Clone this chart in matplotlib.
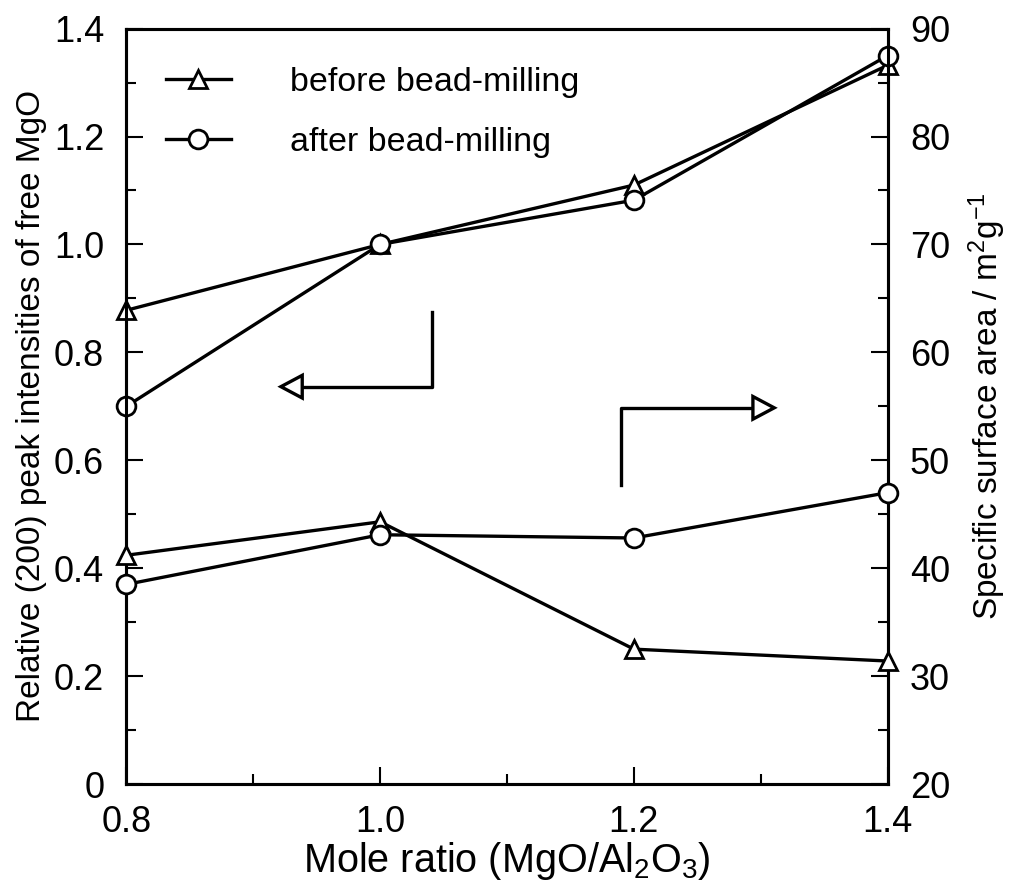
import matplotlib
matplotlib.use("Agg")
import matplotlib.pyplot as plt
from matplotlib.patches import Polygon
from matplotlib.ticker import MultipleLocator

# Data
mole_ratio = [0.8, 1.0, 1.2, 1.4]
mgo_before = [0.878, 1.0, 1.11, 1.332]
mgo_after = [0.70, 1.0, 1.082, 1.35]
ssa_before = [41.2, 44.3, 32.5, 31.4]
ssa_after = [38.5, 43.1, 42.8, 47.0]

plt.rcParams['font.family'] = ['Liberation Sans', 'DejaVu Sans']
plt.rcParams['mathtext.fontset'] = 'custom'
plt.rcParams['mathtext.rm'] = 'Liberation Sans'
plt.rcParams['mathtext.it'] = 'Liberation Sans'
plt.rcParams['mathtext.default'] = 'regular'
lw = 2.4
ms = 13.5

fig = plt.figure(figsize=(10.11, 8.93), dpi=100)
ax = fig.add_axes([0.125, 0.122, 0.753, 0.846])
ax2 = ax.twinx()

kw_b = dict(color='black', lw=lw, marker='^', ms=ms, mfc='white', mec='black', mew=2, clip_on=False, zorder=5)
kw_a = dict(color='black', lw=lw, marker='o', ms=ms, mfc='white', mec='black', mew=2, clip_on=False, zorder=6)

l1, = ax.plot(mole_ratio, mgo_before, label='before bead-milling', **kw_b)
l2, = ax.plot(mole_ratio, mgo_after, label='after bead-milling', **kw_a)
ax2.plot(mole_ratio, ssa_before, **kw_b)
ax2.plot(mole_ratio, ssa_after, **kw_a)

ax.set_xlim(0.8, 1.4)
ax.set_ylim(0, 1.4)
ax2.set_ylim(20, 90)

ax.xaxis.set_minor_locator(MultipleLocator(0.1))
ax.yaxis.set_minor_locator(MultipleLocator(0.1))
ax2.yaxis.set_major_locator(MultipleLocator(10))
ax2.yaxis.set_minor_locator(MultipleLocator(5))

ax.set_xticks([0.8, 1.0, 1.2, 1.4])
ax.set_xticklabels(['0.8', '1.0', '1.2', '1.4'])
ax.set_yticks([0, 0.2, 0.4, 0.6, 0.8, 1.0, 1.2, 1.4])
ax.set_yticklabels(['0', '0.2', '0.4', '0.6', '0.8', '1.0', '1.2', '1.4'])

for a in (ax, ax2):
    a.tick_params(which='major', direction='in', length=12, width=1.5, labelsize=26, pad=16)
    a.tick_params(which='minor', direction='in', length=7, width=1.5)
    for s in a.spines.values():
        s.set_linewidth(2.2)
ax.tick_params(axis='x', pad=15)

ax.set_xlabel('Mole ratio (MgO/Al$_2$O$_3$)', fontsize=28.5, labelpad=0)
ax.set_ylabel('Relative (200) peak intensities of free MgO', fontsize=24, labelpad=5)
ax2.set_ylabel('Specific surface area / m$^2$g$^{-1}$', fontsize=24, labelpad=12)

leg = ax.legend(handles=[l1, l2], loc='upper left', bbox_to_anchor=(0.012, 0.99),
                frameon=False, fontsize=24.5, handlelength=1.9, handletextpad=1.75,
                labelspacing=0.85)

# Arrows pointing to the axes
def bent_arrow(xs, ys, head):
    ax.plot(xs, ys, color='black', lw=lw, transform=ax.transAxes, clip_on=False)
    ax.add_patch(Polygon(head, closed=True, fc='white', ec='black', lw=lw,
                         transform=ax.transAxes, zorder=4))

bent_arrow([0.401, 0.401, 0.229], [0.625, 0.526, 0.526],
           [[0.203, 0.526], [0.231, 0.541], [0.231, 0.511]])
bent_arrow([0.650, 0.650, 0.825], [0.396, 0.498, 0.498],
           [[0.851, 0.498], [0.823, 0.513], [0.823, 0.483]])

fig.savefig('out.png', dpi=100)
